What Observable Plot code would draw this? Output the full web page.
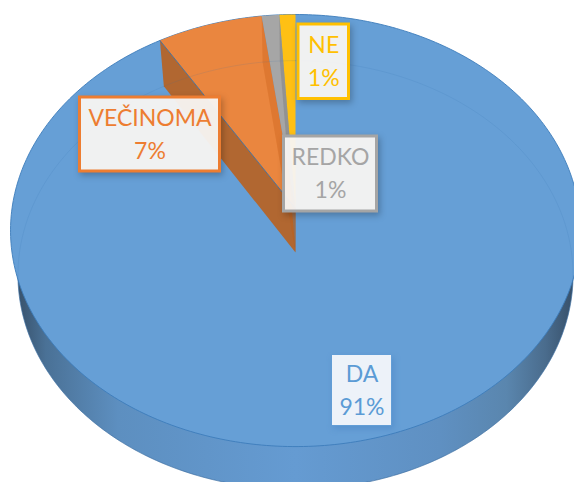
<!DOCTYPE html>
<html><head><meta charset="utf-8">
<script src="https://cdn.jsdelivr.net/npm/d3@7"></script>
<script src="https://cdn.jsdelivr.net/npm/@observablehq/plot@0.6"></script>
<style>html,body{margin:0;padding:0;background:#fff;overflow:hidden}</style>
</head><body><div id="chart"></div>
<script>
const categories = ["DA", "VEČINOMA", "REDKO", "NE"];
const shares = [91.3, 6.6, 1.1, 1.0];
const sliceColors = ["#669FD6", "#EA863F", "#A6A6A6", "#FFC014"];
const labelColors = ["#5B9BD5", "#ED7D31", "#A5A5A5", "#FFC000"];
// label box placement
const boxLeft = [331.5, 79.5, 283.5, 298];
const boxRight = [391.5, 219.5, 376.5, 348.5];
const boxTop = [354.5, 97, 136, 24];
const boxBottom = [425.5, 171, 211, 98.5];

// perspective model of the disc
const topDisc = {cx: 295, cy: 208, sx: 283.5, sy: 213.8, k: 0.102};
const botDisc = {cx: 295, cy: 252, sx: 276, sy: 212, k: 0.105};
const project = (d, t, r = 1) => {
  const u = r * Math.sin(t), v = r * Math.cos(t), w = 1 + d.k * v;
  return {x: d.cx + d.sx * u / w, y: d.cy - d.sy * v / w};
};
const total = d3.sum(shares);
let acc = 0;
const slices = categories.map((name, i) => {
  const a0 = acc / total * 2 * Math.PI; acc += shares[i];
  return {name, i, share: shares[i], a0, a1: acc / total * 2 * Math.PI};
});
const arc = (d, a0, a1) => {
  const n = Math.max(4, Math.ceil((a1 - a0) * 60));
  return d3.range(n + 1).map(j => project(d, a0 + (a1 - a0) * j / n));
};
const ring = d => arc(d, 0, 2 * Math.PI);
const wedge = s => [project(topDisc, 0, 0), ...arc(topDisc, s.a0, s.a1)];
const wall = (t) => [project(topDisc, t), project(topDisc, 0, 0), project(botDisc, 0, 0), project(botDisc, t)];

const defs = () => {
  const svg = d3.create("svg:defs");
  const g = svg.append("linearGradient").attr("id", "side");
  [[0, "#38526c"], [0.05, "#4a7196"], [0.18, "#5d8fc0"], [0.5, "#659bd2"], [0.76, "#5f90c2"], [0.88, "#5a86ae"], [0.95, "#4a6c8d"], [1, "#37506a"]]
    .forEach(([o, c]) => g.append("stop").attr("offset", o).attr("stop-color", c));
  return svg.node();
};
const fmt = d3.format(".0%");
const font = {fontFamily: "Lato, sans-serif", fontSize: 23};
const labels = slices.map(s => ({
  ...s, x1: boxLeft[s.i], x2: boxRight[s.i], y1: boxTop[s.i], y2: boxBottom[s.i],
  xc: (boxLeft[s.i] + boxRight[s.i]) / 2, yc: (boxTop[s.i] + boxBottom[s.i]) / 2
}));
const [da, vec, red, ne] = slices;

const plot = Plot.plot({
  width: 574, height: 482,
  margin: 0,
  x: {domain: [0, 574], range: [0, 574], axis: null},
  y: {domain: [0, 482], range: [0, 482], axis: null},
  marks: [
    defs,
    Plot.line(ring(botDisc), {x: "x", y: "y", fill: "url(#side)", stroke: "#3f6f9f", strokeWidth: 0.6}),
    Plot.line(ring(topDisc), {x: "x", y: "y", fill: sliceColors[0], stroke: "#3d7dbb", strokeWidth: 0.9}),
    Plot.line(wall(vec.a0), {x: "x", y: "y", fill: "#B16731", stroke: "none"}),
    Plot.line(wedge(vec), {x: "x", y: "y", fill: sliceColors[1], stroke: "none"}),
    Plot.line(wedge(red), {x: "x", y: "y", fill: sliceColors[2], stroke: "none"}),
    Plot.line(wedge(ne), {x: "x", y: "y", fill: sliceColors[3], stroke: "none"}),
    Plot.line(wall(red.a0), {x: "x", y: "y", fill: "#C55A11", fillOpacity: 0.3, stroke: "none"}),
    Plot.line(wall(ne.a0), {x: "x", y: "y", fill: "#7b7b7b", fillOpacity: 0.45, stroke: "none"}),
    Plot.line([project(topDisc, vec.a0), project(topDisc, 0, 0)], {x: "x", y: "y", stroke: "#4f7397", strokeWidth: 1}),
    Plot.line(ring(botDisc), {x: "x", y: "y", stroke: "#2f6ea8", strokeOpacity: 0.13, strokeWidth: 1}),
    Plot.rect(labels.slice(1), {
      x1: "x1", x2: "x2", y1: "y1", y2: "y2",
      fill: "#FAF8F5", fillOpacity: 0.94,
      stroke: d => labelColors[d.i], strokeWidth: 3,
      imageFilter: "drop-shadow(2px 3px 3px rgba(0,0,0,0.25))"
    }),
    Plot.rect(labels.slice(0, 1), {
      x1: "x1", x2: "x2", y1: "y1", y2: "y2",
      fill: "#EDF2F9",
      stroke: "#629DD6", strokeWidth: 1,
      imageFilter: "drop-shadow(2px 3px 3px rgba(60,120,190,0.35))"
    }),
    Plot.text(labels, {x: "xc", y: d => d.yc - 16, text: "name", fill: d => labelColors[d.i], ...font}),
    Plot.text(labels, {x: "xc", y: d => d.yc + 17, text: d => fmt(d.share / 100), fill: d => labelColors[d.i], ...font})
  ]
});
document.getElementById("chart").append(plot);
</script></body></html>
